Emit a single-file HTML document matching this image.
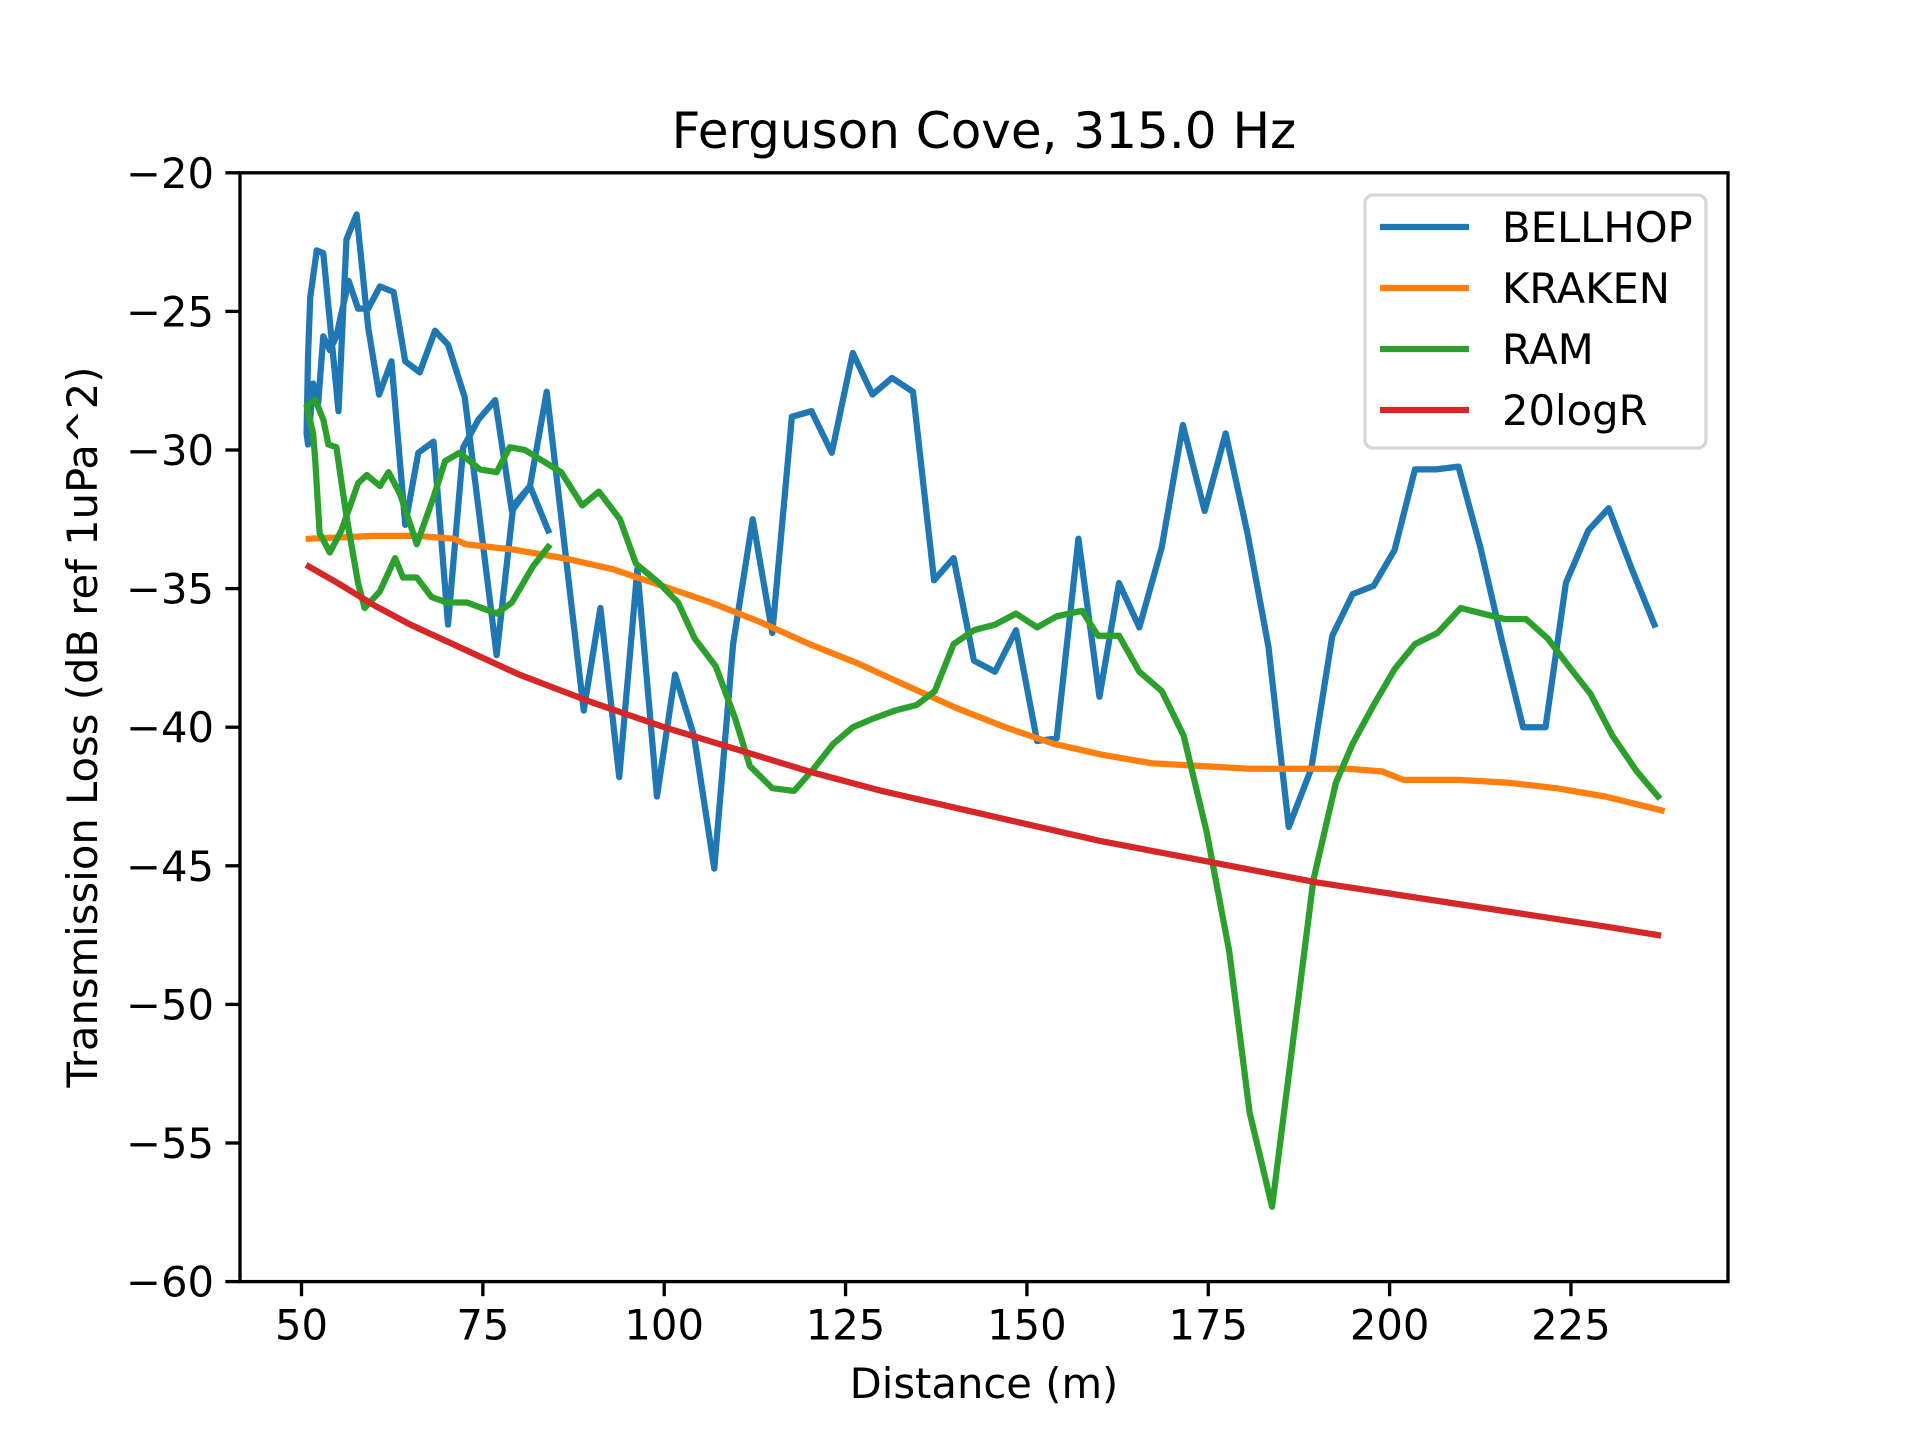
<!DOCTYPE html>
<html><head><meta charset="utf-8"><style>
html,body{margin:0;padding:0;background:#fff;}
svg{display:block;font-family:"DejaVu Sans","Liberation Sans",sans-serif;}
</style></head><body>
<svg id="chart" width="1920" height="1440" viewBox="0 0 1920 1440" xmlns="http://www.w3.org/2000/svg">
<rect x="0" y="0" width="1920" height="1440" fill="#fff"/>
<text x="984" y="148" font-size="50" text-anchor="middle">Ferguson Cove, 315.0 Hz</text>
<g id="plot"></g>
<text x="984" y="1398" font-size="41.7" text-anchor="middle">Distance (m)</text>
<text transform="translate(97,727) rotate(-90)" font-size="41.7" text-anchor="middle">Transmission Loss (dB ref 1uPa^2)</text>
</svg>
<script>
const bellhopX=[84.0,81.5,79.2,76.9,72.5,70.2,68.4,66.3,64.3,62.7,60.8,59.2,57.8,56.5,54.8,53.9,53.0,52.3,51.6,50.9,50.7,50.9,51.2,52.1,53.0,55.1,56.2,57.6,59.2,60.7,62.4,64.3,66.1,68.2,70.2,72.3,74.4,76.7,79.0,81.5,83.8,88.9,91.2,93.8,96.3,99.0,101.5,104.1,106.9,109.5,112.2,114.9,117.6,120.3,123.1,126.0,128.7,131.4,134.3,137.2,139.9,142.7,145.6,148.5,151.4,154.1,157.1,160.0,162.7,165.5,168.6,171.5,174.5,177.4,180.4,183.3,186.1,189.2,192.1,194.9,197.8,200.7,203.5,206.4,209.5,212.5,215.5,218.4,221.5,224.3,227.4,230.2,233.4,236.5];
const bellhopY=[-32.9,-31.3,-32.0,-37.4,-28.1,-26.2,-25.7,-27.2,-26.8,-24.3,-24.1,-24.9,-24.9,-23.9,-25.9,-26.4,-25.9,-28.3,-27.6,-29.8,-29.4,-26.6,-24.5,-22.8,-22.9,-28.6,-22.4,-21.5,-25.6,-28.0,-26.8,-32.7,-30.1,-29.7,-36.3,-29.9,-28.9,-28.2,-32.2,-31.3,-27.9,-39.4,-35.7,-41.8,-34.3,-42.5,-38.1,-40.3,-45.1,-37.0,-32.5,-36.6,-28.8,-28.6,-30.1,-26.5,-28.0,-27.4,-27.9,-34.7,-33.9,-37.6,-38.0,-36.5,-40.5,-40.4,-33.2,-38.9,-34.8,-36.4,-33.5,-29.1,-32.2,-29.4,-33.0,-37.1,-43.6,-41.5,-36.7,-35.2,-34.9,-33.6,-30.7,-30.7,-30.6,-33.5,-36.9,-40.0,-40.0,-34.8,-32.9,-32.1,-34.3,-36.3];
const krakenX=[51,60,66,71,72.6,79.4,86.1,92.9,99.7,106.4,113.2,120,126.7,133.4,140.2,147,153.7,160.5,167.2,174,180.7,187.5,194.3,199,201.9,209.5,216.2,223,229.7,237.5];
const krakenY=[-33.2,-33.1,-33.1,-33.2,-33.4,-33.6,-33.9,-34.3,-34.9,-35.5,-36.2,-37.0,-37.7,-38.5,-39.3,-40.0,-40.6,-41.0,-41.3,-41.4,-41.5,-41.5,-41.5,-41.6,-41.9,-41.9,-42.0,-42.2,-42.5,-43.0];
const ramX=[84.0,81.9,79.0,76.9,72.8,70.0,67.9,65.9,64.0,62.9,60.8,58.7,57.8,56.2,54.8,53.7,53.0,51.9,50.7,51.6,51.9,52.5,53.9,55.5,57.8,59.0,60.8,62.0,63.6,65.9,68.2,69.8,71.8,74.6,76.9,78.7,80.8,85.8,88.7,91.0,93.9,96.1,99.3,101.9,104.2,107.1,109.8,111.8,114.9,117.9,120.6,123.3,126.0,128.7,131.8,134.8,137.3,139.9,142.7,145.6,148.5,151.4,154.1,157.6,159.8,162.7,165.5,168.6,171.6,174.8,177.9,180.7,183.8,186.7,189.5,192.6,194.9,197.8,200.7,203.5,206.6,209.8,212.8,215.9,218.8,221.8,224.7,227.7,230.7,234.1,237.0];
const ramY=[-33.5,-34.2,-35.5,-35.9,-35.5,-35.5,-35.3,-34.6,-34.6,-33.9,-35.1,-35.7,-34.8,-32.4,-29.9,-29.8,-28.9,-28.2,-28.4,-29.4,-30.4,-33.0,-33.7,-32.9,-31.2,-30.9,-31.3,-30.8,-31.6,-33.4,-31.7,-30.4,-30.1,-30.7,-30.8,-29.9,-30.0,-30.8,-32.0,-31.5,-32.5,-34.1,-34.8,-35.5,-36.8,-37.8,-39.7,-41.4,-42.2,-42.3,-41.5,-40.6,-40.0,-39.7,-39.4,-39.2,-38.7,-37.0,-36.5,-36.3,-35.9,-36.4,-36.0,-35.8,-36.7,-36.7,-38.0,-38.7,-40.3,-43.8,-48.1,-53.9,-57.3,-51.3,-45.5,-42.0,-40.6,-39.2,-37.9,-37.0,-36.6,-35.7,-35.9,-36.1,-36.1,-36.8,-37.8,-38.8,-40.3,-41.6,-42.5];
const logrX=[51,55,60,65,70,80,90,100,110,120,130,140,150,160,170,180,190,200,210,220,230,237];
const logrY=[-34.2,-34.8,-35.6,-36.3,-36.9,-38.1,-39.1,-40.0,-40.8,-41.6,-42.3,-42.9,-43.5,-44.1,-44.6,-45.1,-45.6,-46.0,-46.4,-46.8,-47.2,-47.5];
const xTicks=[50,75,100,125,150,175,200,225];
const xTickLabels=["50","75","100","125","150","175","200","225"];
const yTicks=[-60,-55,-50,-45,-40,-35,-30,-25,-20];
const yTickLabels=["\u221260","\u221255","\u221250","\u221245","\u221240","\u221235","\u221230","\u221225","\u221220"];
const seriesNames=["BELLHOP","KRAKEN","RAM","20logR"];

const L=240,R=1728,T=172.8,B=1281.6;
const XMIN=41.52,XMAX=246.65,YMIN=-60,YMAX=-20;
function sx(v){return L+(v-XMIN)/(XMAX-XMIN)*(R-L);}
function sy(v){return B-(v-YMIN)/(YMAX-YMIN)*(B-T);}
const NS="http://www.w3.org/2000/svg";
const plot=document.getElementById('plot');
function mk(tag,attrs,parent){const e=document.createElementNS(NS,tag);for(const k in attrs)e.setAttribute(k,attrs[k]);(parent||plot).appendChild(e);return e;}

const clip=mk('clipPath',{id:'cp'});
mk('rect',{x:L,y:T,width:R-L,height:B-T},clip);

function line(xs,ys,color,name){
  const p=mk('polyline',{points:xs.map((x,i)=>sx(x).toFixed(2)+','+sy(ys[i]).toFixed(2)).join(' '),fill:'none',stroke:color,'stroke-width':6.25,'stroke-linejoin':'round','stroke-linecap':'square','clip-path':'url(#cp)'});
  
  
}
line(bellhopX,bellhopY,'#1f77b4','bellhop-line');
line(krakenX,krakenY,'#ff7f0e','kraken-line');
line(ramX,ramY,'#2ca02c','ram-line');
line(logrX,logrY,'#d62728','20logr-line');

const frame=mk('rect',{x:L,y:T,width:R-L,height:B-T,fill:'none',stroke:'#000','stroke-width':3.33});



xTicks.forEach((t,i)=>{
  const x=sx(t);
  const tk=mk('line',{x1:x,x2:x,y1:B,y2:B+14.6,stroke:'#000','stroke-width':3.33});
  
  
  const tx=mk('text',{x:x,y:B+58,'font-size':41.7,'text-anchor':'middle'});
  tx.textContent=xTickLabels[i];
  
  
});
yTicks.forEach((t,i)=>{
  const y=sy(t);
  const tk=mk('line',{x1:L-14.6,x2:L,y1:y,y2:y,stroke:'#000','stroke-width':3.33});
  
  
  const tx=mk('text',{x:L-26,y:y+15,'font-size':41.7,'text-anchor':'end'});
  tx.textContent=yTickLabels[i];
  
  
});

const leg=mk('g',{});


mk('rect',{x:1365,y:195,width:341,height:253,rx:8,fill:'#fff','fill-opacity':0.8,stroke:'#d6d6d6','stroke-width':3.33},leg);
const colors=['#1f77b4','#ff7f0e','#2ca02c','#d62728'];
seriesNames.forEach((n,i)=>{
  const y=227+i*61;
  const ent=mk('g',{},leg);
  
  
  mk('line',{x1:1380,x2:1469,y1:y,y2:y,stroke:colors[i],'stroke-width':6.25},ent);
  const tx=mk('text',{x:1502,y:y+15,'font-size':41.7},ent);
  tx.textContent=n;
});
</script>
</body></html>
